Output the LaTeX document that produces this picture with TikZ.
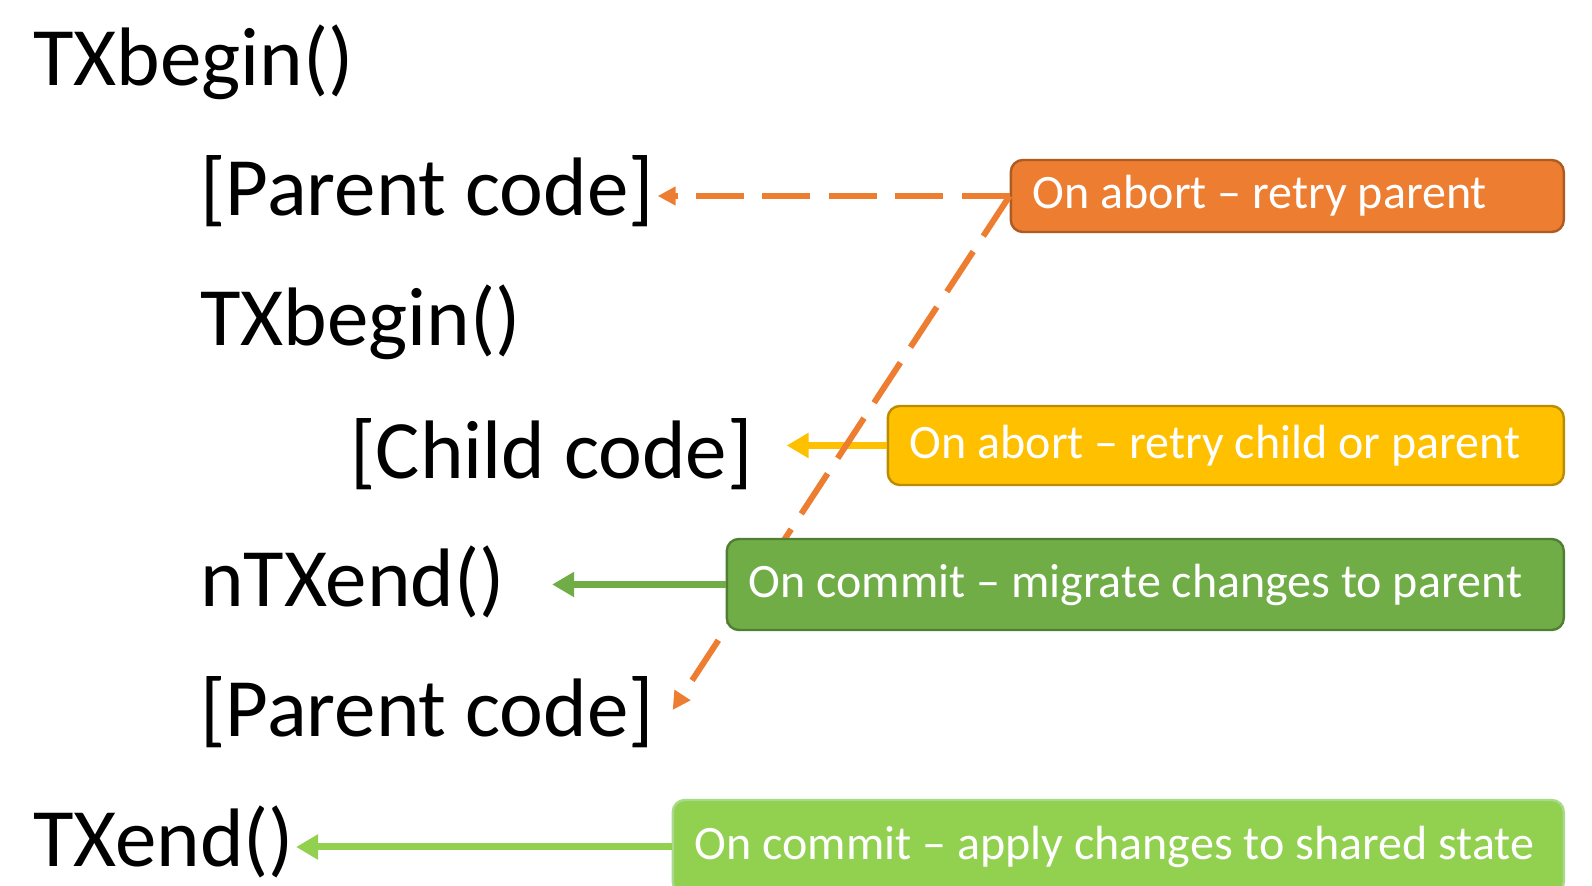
\documentclass[tikz,border=0pt]{standalone}
\usepackage{fontspec}
\setmainfont{Carlito}
\usetikzlibrary{arrows.meta}
\definecolor{abfill}{HTML}{ED7D31}
\definecolor{abdraw}{HTML}{AE5A21}
\definecolor{chfill}{HTML}{FFC000}
\definecolor{chdraw}{HTML}{BC8C00}
\definecolor{cmfill}{HTML}{70AD47}
\definecolor{cmdraw}{HTML}{507E32}
\definecolor{apfill}{HTML}{92D050}
\definecolor{apdraw}{HTML}{A9D98A}
\tikzset{
  txcode/.style={font=\fontsize{41.5}{50}\selectfont, inner sep=0pt, anchor=base west},
  txbox/.style 2 args={
    draw=#1, fill=#2, line width=1.2pt, rounded corners=6pt, text=white,
    font=\fontsize{24}{29}\selectfont, align=flush left, inner xsep=11pt, inner ysep=0pt,
    anchor=east
  },
  txarr/.style={-{Triangle[length=11pt,width=12pt]}, line width=3.5pt, draw=#1},
  txdarr/.style={-{Triangle[length=9pt,width=9pt]}, line width=3pt, draw=abfill,
    dash pattern=on 24pt off 9.2pt},
}

\begin{document}
\begin{tikzpicture}[x=0.5pt, y=-0.5pt]
  \useasboundingbox (0,0) rectangle (1592,886);

  % code lines
  \node[txcode] (tb1) at (33,86) {TXbegin()};
  \node[txcode] (pc1) at (200,216) {[Parent code]};
  \node[txcode] (tb2) at (200,346) {TXbegin()};
  \node[txcode] (cc) at (350,479) {[Child code]};
  \node[txcode] (ntx) at (200,607) {nTXend()};
  \node[txcode] (pc2) at (200,737) {[Parent code]};
  \node[txcode] (te) at (33,867) {TXend()};

  % notes
  \node[txbox={abdraw}{abfill}, text width=254.5pt, minimum height=36pt] (abortp) at (1565,196)
    {On abort – retry parent};
  \node[txbox={chdraw}{chfill}, text width=316pt, minimum height=39.5pt] (abortc) at (1565,445.5)
    {On abort – retry child or parent};

  \draw[txarr=chfill, shorten >=16.75pt] (abortc.west) -- (abortc.west -| cc.east);

  \coordinate (pcback) at ([xshift=9.25pt,yshift=13.5pt]pc2.base east);
  \draw[txdarr, shorten >=1.75pt] (abortp.west) -- (abortp.west -| pc1.east);
  \draw[txdarr] (abortp.west) -- (pcback);

  \node[txbox={cmdraw}{cmfill}, text width=396.5pt, minimum height=45.5pt] (commitc) at (1565,584.5)
    {On commit – migrate changes to parent};
  \draw[txarr=cmfill, shorten >=23.5pt] (commitc.west) -- (commitc.west -| ntx.east);

  \node[txbox={apdraw}{apfill}, text width=423.5pt, minimum height=47pt] (commitp) at (1565,847)
    {On commit – apply changes to shared state};
  \draw[txarr=apfill, shorten >=0.75pt] (commitp.west) -- (commitp.west -| te.east);
\end{tikzpicture}
\end{document}
